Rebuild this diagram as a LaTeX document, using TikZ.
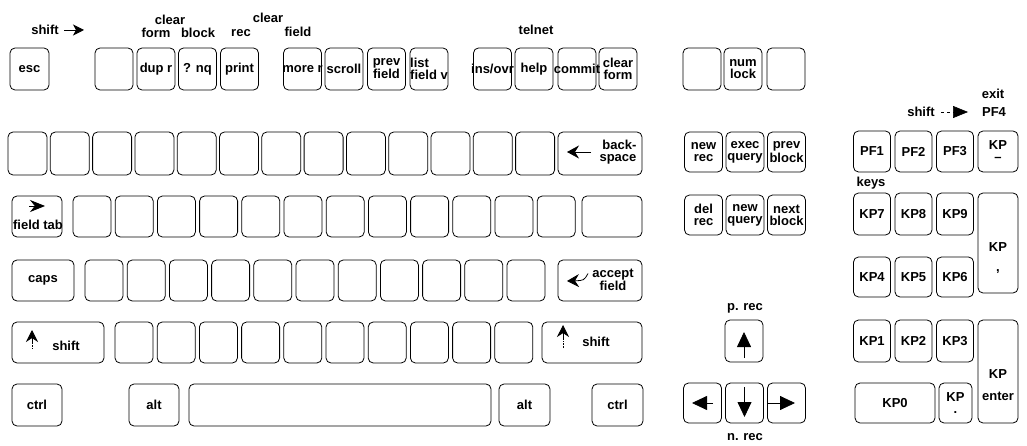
\documentclass[tikz,border=0pt]{standalone}
\usepackage{fontspec}
\setmainfont{Liberation Sans}
\usetikzlibrary{arrows.meta}

\newcommand{\keyfont}{\fontsize{13}{12}\selectfont\bfseries}

\begin{document}
\begin{tikzpicture}[x=1pt, y=-1pt, line width=0.8pt,
    kbkey/.style={draw, rounded corners=5pt, minimum width=38pt, minimum height=41pt,
      inner xsep=0pt, inner ysep=1pt, align=center, font=\keyfont},
    keytext/.style={inner sep=0pt, align=center, font=\keyfont},
    solidtip/.style={-{Triangle[length=15pt,width=14pt]}},
    smalltip/.style={-{Stealth[length=12pt,width=12pt]}},
    barbtip/.style={-{Stealth[length=12pt,width=13pt,inset=4pt]}}]
    \useasboundingbox (0,0) rectangle (1027,446);

    % Labels over the function row
    \node[keytext] (shiftlbl) at (45,30) {shift};
    \coordinate (shifttip) at (84,30);
    \draw[-{Stealth[length=11pt,width=11pt,inset=3pt]}] ([xshift=5pt]shiftlbl.east) -- (shifttip);
    \node[keytext] (clearlbla) at (170,20) {clear};
    \node[keytext] (formlbl) at (156,33) {form};
    \node[keytext] (blocklbl) at (198,33) {block};
    \node[keytext] (reclbl) at (241,33) {rec};
    \node[keytext] (clearlblb) at (268,18) {clear};
    \node[keytext] (fieldlbl) at (298,32) {field};
    \node[keytext] (telnetlbl) at (536,30) {telnet};

    % Function row
    \node[kbkey, minimum width=39pt, minimum height=42pt] (esc) at (29.5,69) {esc};
    \node[kbkey, minimum height=42pt] (fblank) at (114,69) {};
    \node[kbkey, minimum height=42pt] (duprec) at (156,69) {dup r};
    \node[kbkey, minimum height=42pt] (enterq) at (197.5,69) {? nq};
    \node[kbkey, minimum height=42pt] (print) at (239.5,69) {print};
    \node[kbkey, minimum height=42pt] (morerec) at (302.5,69) {\makebox[0pt]{more r}};
    \node[kbkey, minimum height=42pt] (scroll) at (344,69) {scroll};
    \node[kbkey, minimum height=42pt] (prevfield) at (386.5,69) {prev\\field};
    \node[kbkey, minimum height=42pt, align=left] (listfield) at (429,69) {list\\field v};
    \node[kbkey, minimum height=42pt] (insovr) at (492.5,69) {\makebox[0pt]{ins/ovr}};
    \node[kbkey, minimum height=42pt] (help) at (534,69) {help};
    \node[kbkey, minimum height=42pt] (commit) at (577,69) {\makebox[0pt]{commit}};
    \node[kbkey, minimum height=42pt] (clearform) at (618,69) {clear\\form};
    \node[kbkey, minimum height=42pt] (eblanka) at (702,69) {};
    \node[kbkey, minimum height=42pt] (numlock) at (743,69) {num\\lock};
    \node[kbkey, minimum height=42pt] (eblankb) at (786,69) {};

    % Number row
    \foreach \i in {0,...,12}
      \node[kbkey, minimum width=39pt, minimum height=43pt] (num\i) at (27.5+42.3*\i,153.5) {};
    \node[kbkey, minimum width=84pt, minimum height=43pt] (backspace) at (600,153.5) {};
    \node[keytext, align=right] (backspacetext) at (618,152) {back-\\space};
    \draw[barbtip, shift={(backspace.center)}] (-9,-1.5) -- (-33,-1.5);

    % Tab row
    \node[kbkey, minimum width=50pt] (fieldtab) at (37,216.5) {};
    \node[keytext] (fieldtabtext) at (38,225) {field tab};
    \draw[-{Stealth[length=15pt,width=12pt]}, shift={(fieldtab.center)}] (-8,-10.5) -- (8,-10.5);
    \foreach \i in {0,...,11}
      \node[kbkey] (tab\i) at (92+42.2*\i,216.5) {};
    \node[kbkey, minimum width=60pt] (tabwide) at (612,216.5) {};

    % Caps row
    \node[kbkey, minimum width=62pt] (caps) at (43,280.5) {caps};
    \foreach \i in {0,...,10}
      \node[kbkey] (home\i) at (104+42.2*\i,280.5) {};
    \node[kbkey, minimum width=84pt] (accept) at (600,280.5) {};
    \node[keytext] (accepttext) at (613,280) {accept\\field};
    \draw[barbtip, shift={(accept.center)}] (-12,-7) .. controls (-16,0) .. (-33,0.5);

    % Shift row
    \node[kbkey, minimum width=92pt] (lshift) at (58,342.5) {};
    \node[keytext] (lshifttext) at (66,346) {shift};
    \draw[densely dotted, line width=0.6pt, shift={(lshift.center)}] (-26,6) -- (-26,-1);
    \draw[smalltip, shift={(lshift.center)}] (-26,0) -- (-26,-12.5);
    \foreach \i in {0,...,9}
      \node[kbkey] (low\i) at (134+42.2*\i,342.5) {};
    \node[kbkey, minimum width=100pt] (rshift) at (592,342.5) {};
    \node[keytext] (rshifttext) at (596,342) {shift};
    \draw[densely dotted, line width=0.6pt, shift={(rshift.center)}] (-29,5.5) -- (-29,-4);
    \draw[smalltip, shift={(rshift.center)}] (-29,-3) -- (-29,-17.5);

    % Bottom row
    \node[kbkey, minimum width=50pt, minimum height=42pt] (lctrl) at (37,405) {ctrl};
    \node[kbkey, minimum width=50pt, minimum height=42pt] (lalt) at (154,405) {alt};
    \node[kbkey, minimum width=302pt, minimum height=42pt] (space) at (340,405) {};
    \node[kbkey, minimum width=51pt, minimum height=42pt] (ralt) at (524.5,405) {alt};
    \node[kbkey, minimum width=51pt, minimum height=42pt] (rctrl) at (617.5,405) {ctrl};

    % Editing keys
    \node[kbkey, minimum height=40pt] (newrec) at (703.5,152) {new\\rec};
    \node[kbkey, minimum height=40pt] (execquery) at (745,152) {exec\\query};
    \node[kbkey, minimum height=40pt] (prevblock) at (786.5,152) {prev\\block};
    \node[kbkey, minimum height=40pt] (delrec) at (703.5,215) {del\\rec};
    \node[kbkey, minimum height=40pt] (newquery) at (745,215) {new\\query};
    \node[kbkey, minimum height=40pt] (nextblock) at (786.5,215) {next\\block};

    % Cursor keys
    \node[keytext] (preclbl) at (745,308) {p. rec};
    \node[kbkey, minimum height=42pt] (uparrow) at (744,341) {};
    \draw[solidtip, shift={(uparrow.center)}] (0,17) -- (0,-9);
    \node[kbkey, minimum height=40pt] (leftarrow) at (702.5,403) {};
    \draw[solidtip, shift={(leftarrow.center)}] (10.5,0) -- (-10.5,0);
    \node[kbkey, minimum height=40pt] (downarrow) at (744.5,403) {};
    \draw[solidtip, shift={(downarrow.center)}] (0,-16) -- (0,14);
    \node[kbkey, minimum height=40pt] (rightarrow) at (786.5,403) {};
    \draw[solidtip, shift={(rightarrow.center)}] (-18.5,0) -- (8.5,0);
    \node[keytext] (nreclbl) at (745,437) {n. rec};

    % Keypad labels
    \node[keytext] (exitlbl) at (993,94) {exit};
    \node[keytext] (pffourlbl) at (994,112) {PF4};
    \node[keytext] (shiftpflbl) at (921,112) {shift};
    \coordinate (pftip) at (968,112);
    \draw[dashed, line width=0.6pt, -{Triangle[length=15pt,width=12pt]}] ([xshift=6pt]shiftpflbl.east) -- (pftip);
    \node[keytext] (keyslbl) at (871,183) {keys};

    % Keypad
    \node[kbkey, minimum width=37pt] (pfone) at (872,151.5) {PF1};
    \node[kbkey, minimum width=37pt] (pftwo) at (913.5,151.5) {PF2};
    \node[kbkey, minimum width=37pt] (pfthree) at (955,151.5) {PF3};
    \node[kbkey, minimum width=40pt] (kpminus) at (998,151.5) {KP\\\textendash};
    \node[kbkey, minimum width=37pt, minimum height=42pt] (kpseven) at (872,214) {KP7};
    \node[kbkey, minimum width=37pt, minimum height=42pt] (kpeight) at (913.5,214) {KP8};
    \node[kbkey, minimum width=37pt, minimum height=42pt] (kpnine) at (955,214) {KP9};
    \node[kbkey, minimum width=40pt, minimum height=100pt] (kpcomma) at (998,243) {};
    \node[keytext] (kpcommatext) at (998,258) {KP\\[8pt],};
    \node[kbkey, minimum width=37pt, minimum height=40pt] (kpfour) at (872,277) {KP4};
    \node[kbkey, minimum width=37pt, minimum height=40pt] (kpfive) at (913.5,277) {KP5};
    \node[kbkey, minimum width=37pt, minimum height=40pt] (kpsix) at (955,277) {KP6};
    \node[kbkey, minimum width=37pt, minimum height=42pt] (kpone) at (872,341) {KP1};
    \node[kbkey, minimum width=37pt, minimum height=42pt] (kptwo) at (913.5,341) {KP2};
    \node[kbkey, minimum width=37pt, minimum height=42pt] (kpthree) at (955,341) {KP3};
    \node[kbkey, minimum width=40pt, minimum height=103pt] (kpenter) at (998,371.5) {};
    \node[keytext] (kpentertext) at (998,385) {KP\\[10pt]enter};
    \node[kbkey, minimum width=80pt, minimum height=40pt] (kpzero) at (895,403) {KP0};
    \node[kbkey, minimum width=33pt, minimum height=40pt] (kpdot) at (955.5,403) {KP\\.};
\end{tikzpicture}
\end{document}
